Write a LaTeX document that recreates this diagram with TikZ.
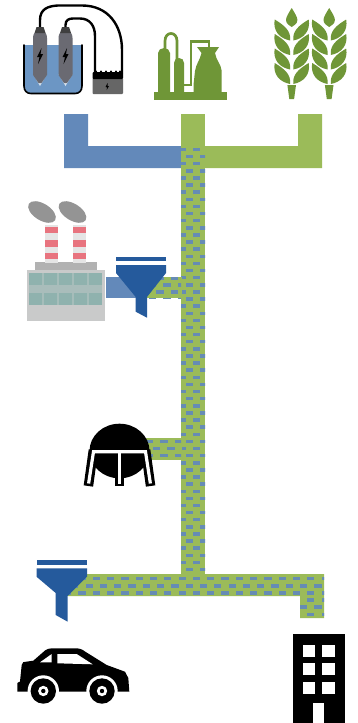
\documentclass[tikz,border=0pt]{standalone}
\definecolor{pipeblue}{HTML}{6389BA}
\definecolor{pipegreen}{HTML}{9BBB59}
\definecolor{dashblue}{HTML}{668CB4}
\definecolor{funnelblue}{HTML}{255A9C}
\definecolor{leafgreen}{HTML}{6F9637}
\definecolor{water}{HTML}{6C96C4}
\definecolor{probe}{HTML}{6A6A72}
\definecolor{factband}{HTML}{8FB2AE}
\definecolor{factsep}{HTML}{A6BDBA}
\definecolor{factbase}{HTML}{C9CACA}
\definecolor{factred}{HTML}{E8747F}
\newcommand{\brick}[6]{% x0 y0 x1 y1 firstrowy firstx
  \begin{scope}
    \clip (#1,#2) rectangle (#3,#4);
    \foreach \r in {0,...,70}{
      \pgfmathsetmacro{\yy}{#5+7.12*\r}
      \pgfmathsetmacro{\off}{mod(\r,2)*7.15}
      \pgfmathtruncatemacro{\inside}{\yy<#4+3 ? 1 : 0}
      \ifnum\inside=1
      \foreach \c in {-1,...,19}{
        \pgfmathsetmacro{\xx}{#6+\off+14.3*\c}
        \fill[dashblue] (\xx,\yy-1.75) rectangle (\xx+7.2,\yy+1.75);
      }
      \fi
    }
  \end{scope}}
\newcommand{\ear}[1]{%
  \begin{scope}[shift={(#1,0)}]
    \fill[leafgreen] (0,8) .. controls (3,13) and (5.7,17) .. (5.7,20) .. controls (5.7,24) and (2,25.5) .. (0,27) .. controls (-2,25.5) and (-5.7,24) .. (-5.7,20) .. controls (-5.7,17) and (-3,13) .. (0,8) -- cycle;
    \fill[leafgreen] (-4.3,85) -- (4.3,85) -- (2.4,99) -- (-2.4,99) -- cycle;
    \foreach \d in {0,14.5,29,43.5}{
      \foreach \s in {1,-1}{
        \begin{scope}[xscale=\s,shift={(0,\d)}]
          \fill[leafgreen] (1.6,40.5) .. controls (0.6,31) and (7,25.5) .. (17,19.5) .. controls (19,31) and (12,38.5) .. (1.6,40.5) -- cycle;
        \end{scope}
      }
    }
  \end{scope}}
\begin{document}
\begin{tikzpicture}[x=1pt,y=-1pt,
  pipeb/.style={fill=pipeblue},
  pipeg/.style={fill=pipegreen},
  funnel/.style={fill=funnelblue},
  leaf/.style={fill=leafgreen},
  blackline/.style={draw=black,line width=1.6pt,line cap=round,line join=round}]
\useasboundingbox (0,0) rectangle (357,723);
\fill[white] (0,0) rectangle (357,723);

% ---- feed pipes
\fill[pipeb] (64,114) -- (88,114) -- (88,146) -- (181,146) -- (181,168) -- (64,168) -- cycle;
\fill[pipeg] (298,114) -- (322,114) -- (322,168) -- (205,168) -- (205,146) -- (298,146) -- cycle;
\fill[pipeg] (181,114) rectangle (205,147);

% ---- mixed pipes
\fill[pipeg] (181,146) rectangle (205,576);
\brick{181}{146}{205}{576}{149.5}{178.8}
\fill[pipeb] (106,277) rectangle (142,298);
\fill[pipeg] (140,277) rectangle (181.5,298);
\brick{140}{277}{181}{298}{278}{142}
\fill[pipeg] (145,438) rectangle (181.5,460);
\brick{145}{438}{181}{460}{441.5}{146}
\fill[pipeg] (68,574) -- (324,574) -- (324,618) -- (300,618) -- (300,596) -- (68,596) -- cycle;
\brick{68}{574}{324}{596}{578.7}{78.4}
\brick{300}{596}{324}{618}{600.06}{78.4}

% ---- electrolyser
\fill[water] (24,45) -- (82,45) -- (82,86) .. controls (82,91) and (79,93.5) .. (75,93.5) -- (31,93.5) .. controls (27,93.5) and (24,91) .. (24,86) -- cycle;
\draw[blackline] (24,45) -- (24,86) .. controls (24,91) and (27,93.5) .. (31,93.5) -- (75,93.5) .. controls (79,93.5) and (82,91) .. (82,86) -- (82,45);
\draw[black,line width=2.4pt] (40,28) -- (40,20) .. controls (40,9) and (48,6) .. (58,5.5) -- (82,5.5) .. controls (108,5.5) and (122,25) .. (122,50) -- (122,73);
\draw[black,line width=2.4pt] (65.5,28) -- (65.5,25) .. controls (65.5,20) and (69,18.5) .. (73,18.5) -- (80,18.5) .. controls (90,18.5) and (95,26) .. (95,36) -- (95,73);
\foreach \cx in {40,65.5}{
  \begin{scope}[shift={(\cx,0)}]
    \fill[white!75!water] (-7,74) -- (0,86) -- (7,74) -- cycle;
    \fill[probe] (-7,38) .. controls (-7,34) and (-5,32) .. (-4,32) -- (4,32) .. controls (5,32) and (7,34) .. (7,38) -- (7,75) -- (1.5,83) -- (-1.5,83) -- (-7,75) -- cycle;
    \fill[black!75] (-3.5,27) -- (3.5,27) -- (5.5,33) -- (-5.5,33) -- cycle;
    \fill[black] (1.5,48) -- (-3,57) -- (-0.5,57) -- (-2,64) -- (3,54) -- (0.5,54) -- cycle;
  \end{scope}}
\fill[black!60!white,rounded corners=1pt] (92.5,78) rectangle (123,94);
\fill[black,rounded corners=1pt] (92.5,72) rectangle (123,79);
\foreach \x in {96,101,106,111,116,120}{\fill[black] (\x,71.5) circle (1.2);}
\fill[black] (107.5,83) -- (105.5,87) -- (107,87) -- (106.7,90) -- (109,86) -- (107.7,86) -- cycle;

% ---- biorefinery
\fill[leaf] (154,91.7) rectangle (226.5,100);
\fill[leaf] (158,92) -- (158,53) .. controls (158,50) and (161,48) .. (164,48) .. controls (167,48) and (170,50) .. (170,53) -- (170,92) -- cycle;
\fill[leaf] (174,92) -- (174,63) .. controls (174,60) and (176,58) .. (179,58) .. controls (182,58) and (184,60) .. (184,63) -- (184,92) -- cycle;
\draw[leafgreen,line width=2.7pt] (165,49) -- (165,41) .. controls (165,31) and (177,31) .. (177,41) -- (177,59);
\draw[leafgreen,line width=2.4pt] (184,85) -- (190.7,85) -- (190.7,41.5) -- (209,41.5) -- (209,48);
\fill[leaf] (193.5,92) -- (193.5,85) -- (195,71) .. controls (196,64) and (200,60) .. (201.5,53) -- (197,47) -- (219,47) -- (215,53) .. controls (216,60) and (221,64) .. (221.7,71) -- (221.7,92) -- cycle;

% ---- wheat
\ear{291.7}
\ear{329.2}

% ---- factory
\fill[black!30] (35,262) rectangle (97,271);
\fill[factbase] (27,270) rectangle (105,320.7);
\fill[factband] (29,273) rectangle (102,285);
\fill[factband!55!factbase] (29,285) rectangle (102,293);
\fill[factband] (29,293) rectangle (102,305);
\foreach \x in {42,57,72,87}{\fill[factsep] (\x,273) rectangle (\x+2,285);\fill[factsep] (\x,293) rectangle (\x+2,305);}
\foreach \cx in {51.5,79.7}{
  \fill[black!10] (\cx-6.7,225) rectangle (\cx+6.7,263);
  \foreach \y in {226.7,240,252.7}{\fill[factred] (\cx-6.7,\y) rectangle (\cx+6.7,\y+6.6);}
}
\fill[black!42] (42,212) ellipse[x radius=15.5,y radius=8.3,rotate=-32];
\fill[black!42] (72.5,212) ellipse[x radius=15.5,y radius=8.3,rotate=-32];

% ---- funnels
\fill[funnel] (116,257) rectangle (166,260.5);
\fill[funnel] (116,265) -- (166,265) -- (166,273) -- (147,297) -- (147,317.7) -- (135.7,311.7) -- (135.7,297) -- (116,273) -- cycle;
\fill[funnel] (36.5,560) rectangle (87,564.5);
\fill[funnel] (36.5,568.3) -- (87,568.3) -- (87,576.7) -- (67.7,596) -- (67.7,621.7) -- (55.7,615) -- (55.7,593) -- (36.5,576.7) -- cycle;

% ---- tank
\fill[black] (119.5,451) ellipse[x radius=30,y radius=27.3];
\draw[black,line width=9.5pt] (93.4,450) -- (88.4,486);
\draw[black,line width=9.5pt] (145.6,450) -- (150.6,486);
\draw[black,line width=9.5pt] (119.5,452) -- (119.5,486);
\draw[white,line width=3.2pt,line join=miter] (88.6,483.5) -- (93.5,451.7) -- (145.5,451.7) -- (150.4,483.5);
\draw[white,line width=3.4pt] (119.5,451.7) -- (119.5,483.5);

% ---- car
\fill[black] (17.3,691.5) -- (17.3,683) -- (20,681.5) -- (21.7,665) .. controls (22,662) and (24,661.7) .. (26,661.7) -- (33.3,660.7) -- (45,650.5) .. controls (47,649) and (49,648.3) .. (52,648.3) -- (75,648.3) .. controls (79,648.3) and (82,649) .. (85,651.5) -- (106.7,665) -- (125,671.7) -- (128.3,678) -- (129.3,691.5) -- cycle;
\fill[white] (40,662.3) -- (51.7,654) -- (51.7,662.3) -- cycle;
\fill[white] (57.3,654) -- (76.7,654) -- (92.7,664.3) -- (57.3,663.3) -- cycle;
\foreach \cx in {43.3,102}{
  \fill[white] (\cx,691) circle (15.7);
  \fill[black] (\cx,691) circle (12.7);
  \fill[white] (\cx,691) circle (5.2);
  \fill[black] (\cx,691) circle (2.2);
}

% ---- building
\fill[black] (293,633.5) rectangle (344.5,723);
\foreach \x in {302.7,322.3}{\foreach \y in {645,662.7,681.7}{
  \fill[white] (\x,\y) rectangle (\x+12.6,\y+12);
}}
\fill[white] (312.7,702.7) rectangle (324.3,723);
\end{tikzpicture}
\end{document}
